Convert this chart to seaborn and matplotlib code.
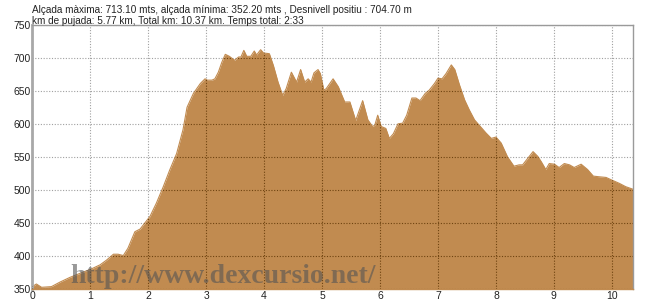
import matplotlib
matplotlib.use("Agg")
import matplotlib.pyplot as plt
import seaborn as sns
import pandas as pd

# --- data ---------------------------------------------------------------
km = [0, 0.07, 0.16, 0.33, 0.48, 0.65, 0.82, 1.0, 1.17, 1.28, 1.40, 1.48, 1.57,
      1.65, 1.77, 1.86, 1.94, 2.03, 2.14, 2.26, 2.37, 2.49, 2.60, 2.67, 2.78,
      2.90, 2.98, 3.02, 3.10, 3.15, 3.21, 3.27, 3.33, 3.40, 3.49, 3.56, 3.60,
      3.65, 3.70, 3.77, 3.83, 3.87, 3.94, 3.99, 4.09, 4.16, 4.24, 4.32, 4.38,
      4.47, 4.56, 4.63, 4.70, 4.76, 4.81, 4.86, 4.93, 4.97, 5.03, 5.07, 5.19,
      5.28, 5.39, 5.48, 5.58, 5.70, 5.79, 5.87, 5.91, 5.96, 6.02, 6.10, 6.16,
      6.23, 6.31, 6.39, 6.46, 6.55, 6.62, 6.69, 6.78, 6.85, 6.94, 7.0, 7.07,
      7.14, 7.23, 7.29, 7.37, 7.46, 7.54, 7.63, 7.71, 7.83, 7.92, 8.0, 8.09,
      8.20, 8.31, 8.40, 8.46, 8.55, 8.64, 8.72, 8.78, 8.86, 8.92, 9.01, 9.09,
      9.18, 9.27, 9.35, 9.47, 9.58, 9.68, 9.78, 9.90, 10.0, 10.13, 10.24, 10.37]
altitude = [354, 358, 353, 354, 361, 368, 374, 380, 387, 394, 403, 403, 401,
            412, 437, 441, 450, 460, 480, 505, 530, 555, 591, 625, 646,
            661, 668, 666, 666, 668, 678, 693, 705, 702, 696, 701, 701,
            711, 702, 702, 710, 704, 712, 707, 706, 688, 663, 643, 653,
            678, 663, 682, 663, 668, 663, 677, 682, 676, 651, 653, 668,
            656, 633, 633, 605, 635, 606, 596, 598, 613, 596, 593, 578,
            585, 600, 601, 613, 639, 639, 635, 646, 651, 661, 669, 668,
            676, 689, 682, 659, 636, 621, 606, 598, 586, 578, 580, 571,
            550, 536, 538, 538, 548, 558, 551, 543, 531, 540, 539, 534,
            540, 538, 534, 539, 531, 521, 520, 519, 515, 510, 505, 501]

x_ticks = [0, 1, 2, 3, 4, 5, 6, 7, 8, 9, 10]
y_ticks = [350, 400, 450, 500, 550, 600, 650, 700, 750]

title_line1 = "Alçada màxima: 713.10 mts, alçada mínima: 352.20 mts , Desnivell positiu : 704.70 m"
title_line2 = "km de pujada: 5.77 km, Total km: 10.37 km. Temps total: 2:33"
watermark = "http://www.dexcursio.net/"

df = pd.DataFrame({"km": km, "alt": altitude})

# --- figure -------------------------------------------------------------
sns.set_style("white")
plt.rcParams["font.family"] = ["Liberation Sans", "DejaVu Sans"]

fig = plt.figure(figsize=(6.5, 3.05), dpi=100)
ax = fig.add_axes([0.0497, 0.0515, 0.9246, 0.868])

fill_color = "#c18b50"
ymin, ymax = 350, 750

# background grid (visible on white)
for xv in x_ticks:
    ax.axvline(xv, color="#a0a0a0", lw=0.8, ls=(0, (1, 1.5)), zorder=0)
for yv in y_ticks:
    ax.axhline(yv, color="#a0a0a0", lw=0.8, ls=(0, (1, 1.5)), zorder=0)

poly = ax.fill_between(df["km"], df["alt"], ymin, color=fill_color, lw=0, zorder=1)
sns.lineplot(data=df, x="km", y="alt", ax=ax, color=fill_color, lw=0.8, zorder=2)

# grid on top of the fill, darker brown, clipped to the filled area
clip_path = poly.get_paths()[0]
for xv in x_ticks:
    ln = ax.axvline(xv, color="#6e4310", lw=0.8, ls=(0, (1, 1.5)), zorder=3)
    ln.set_clip_path(clip_path, ax.transData)
for yv in y_ticks:
    ln = ax.axhline(yv, color="#6e4310", lw=0.8, ls=(0, (1, 1.5)), zorder=3)
    ln.set_clip_path(clip_path, ax.transData)

ax.set_xlim(0, 10.37)
ax.set_ylim(ymin, ymax)
ax.set_xticks(x_ticks)
ax.set_yticks(y_ticks)
ax.set_xlabel("")
ax.set_ylabel("")
ax.tick_params(axis="both", length=0, labelsize=7.5, colors="#222222")
ax.tick_params(axis="x", pad=1)
ax.tick_params(axis="y", pad=1)

for side in ["top", "right"]:
    ax.spines[side].set_color("#9a9a9a")
    ax.spines[side].set_linewidth(1.0)
ax.spines["left"].set_color("#a8a8a8")
ax.spines["left"].set_linewidth(2.0)
ax.spines["bottom"].set_color(fill_color)
ax.spines["bottom"].set_linewidth(1.0)

# title lines
fig.text(0.050, 0.985, title_line1, fontsize=7.2, color="#222222", va="top", ha="left")
fig.text(0.050, 0.948, title_line2, fontsize=7.2, color="#222222", va="top", ha="left")

# watermark
ax.text(0.063, 0.022, watermark, transform=ax.transAxes,
        family=["Liberation Serif", "DejaVu Serif"], fontweight="bold",
        fontsize=20, color="#555555", alpha=0.6, ha="left", va="baseline", zorder=4)

fig.savefig("out.png", dpi=100)
